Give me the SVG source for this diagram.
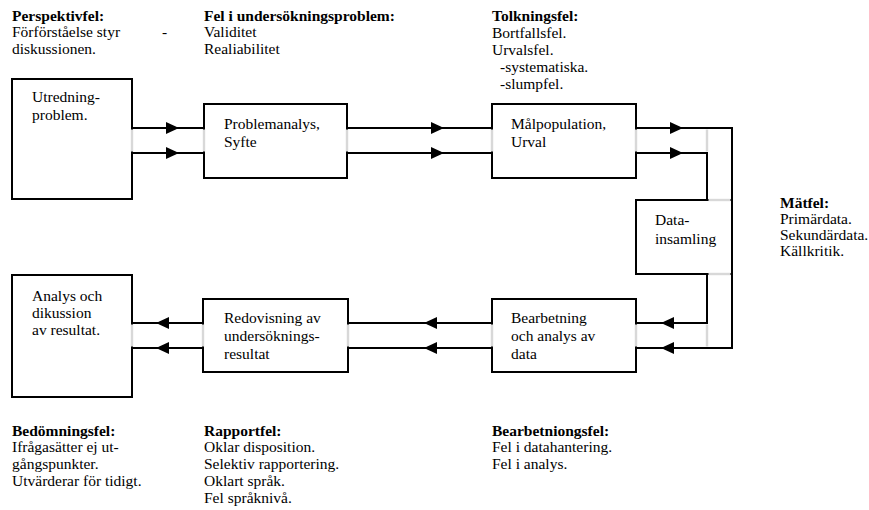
<svg xmlns="http://www.w3.org/2000/svg" width="869" height="510" viewBox="0 0 869 510">
<defs>
<style>
text{font-family:"Liberation Serif","Times New Roman",serif;font-size:15.5px;fill:#000}
.b{font-weight:bold}
.box{fill:#fff;stroke:#000;stroke-width:2}
.ln{fill:none;stroke:#000;stroke-width:2}
.gap{stroke:#d8d8d8;stroke-width:2.4;fill:none}
.ah{fill:#000}
</style>
</defs>
<rect width="869" height="510" fill="#fff"/>

<g id="connectors">
<line class="ln" x1="132" y1="128" x2="204" y2="128"/>
<line class="ln" x1="132" y1="153" x2="204" y2="153"/>
<line class="ln" x1="347" y1="128" x2="492" y2="128"/>
<line class="ln" x1="347" y1="153" x2="492" y2="153"/>
<path class="ln" d="M636 128 H732 V348 H636"/>
<path class="ln" d="M636 153 H707 V323 H636"/>
<line class="ln" x1="348" y1="323" x2="492" y2="323"/>
<line class="ln" x1="348" y1="348" x2="492" y2="348"/>
<line class="ln" x1="132" y1="323" x2="203" y2="323"/>
<line class="ln" x1="132" y1="348" x2="203" y2="348"/>
<path class="ah" d="M166 122 L179 128 L166 134 Z"/>
<path class="ah" d="M166 147 L179 153 L166 159 Z"/>
<path class="ah" d="M431 122 L444 128 L431 134 Z"/>
<path class="ah" d="M431 147 L444 153 L431 159 Z"/>
<path class="ah" d="M670 122 L683 128 L670 134 Z"/>
<path class="ah" d="M670 147 L683 153 L670 159 Z"/>
<path class="ah" d="M674 317 L661 323 L674 329 Z"/>
<path class="ah" d="M674 342 L661 348 L674 354 Z"/>
<path class="ah" d="M437 317 L424 323 L437 329 Z"/>
<path class="ah" d="M437 342 L424 348 L437 354 Z"/>
<path class="ah" d="M169 317 L156 323 L169 329 Z"/>
<path class="ah" d="M169 342 L156 348 L169 354 Z"/>
</g>

<g id="n1"><rect class="box" x="12" y="79" width="120" height="120"/>
<text x="32" y="102">Utredning-</text><text x="32" y="120">problem.</text></g>
<g id="n2"><rect class="box" x="204" y="104" width="143" height="74"/>
<text x="224" y="129">Problemanalys,</text><text x="224" y="147">Syfte</text></g>
<g id="n3"><rect class="box" x="492" y="104" width="144" height="74"/>
<text x="511" y="129">Målpopulation,</text><text x="511" y="147">Urval</text></g>
<g id="n4"><rect class="box" x="636" y="200" width="96" height="74"/>
<text x="655" y="225">Data-</text><text x="655" y="244">insamling</text></g>
<g id="n5"><rect class="box" x="492" y="299" width="144" height="73"/>
<text x="511" y="323">Bearbetning</text><text x="511" y="341">och analys av</text><text x="511" y="359">data</text></g>
<g id="n6"><rect class="box" x="203" y="299" width="145" height="73"/>
<text x="224" y="323">Redovisning av</text><text x="224" y="341">undersöknings-</text><text x="224" y="359">resultat</text></g>
<g id="n7"><rect class="box" x="12" y="275" width="120" height="122"/>
<text x="32" y="301">Analys och</text><text x="32" y="318">dikussion</text><text x="32" y="335">av resultat.</text></g>

<g id="gaps">
<line class="gap" x1="132" y1="129.5" x2="132" y2="151.5"/>
<line class="gap" x1="204" y1="129.5" x2="204" y2="151.5"/>
<line class="gap" x1="347" y1="129.5" x2="347" y2="151.5"/>
<line class="gap" x1="492" y1="129.5" x2="492" y2="151.5"/>
<line class="gap" x1="636" y1="129.5" x2="636" y2="151.5"/>
<line class="gap" x1="707" y1="129.5" x2="707" y2="151.5"/>
<line class="gap" x1="708.5" y1="200" x2="730.5" y2="200"/>
<line class="gap" x1="708.5" y1="274" x2="730.5" y2="274"/>
<line class="gap" x1="707" y1="324.5" x2="707" y2="346.5"/>
<line class="gap" x1="636" y1="324.5" x2="636" y2="346.5"/>
<line class="gap" x1="492" y1="324.5" x2="492" y2="346.5"/>
<line class="gap" x1="348" y1="324.5" x2="348" y2="346.5"/>
<line class="gap" x1="203" y1="324.5" x2="203" y2="346.5"/>
<line class="gap" x1="132" y1="324.5" x2="132" y2="346.5"/>
</g>

<g id="labels">
<text x="12" y="21" class="b">Perspektivfel:</text>
<text x="12" y="37">Förförståelse styr</text>
<text x="162" y="37">-</text>
<text x="12" y="54">diskussionen.</text>

<text x="204" y="21" class="b">Fel i undersökningsproblem:</text>
<text x="204" y="37">Validitet</text>
<text x="204" y="54">Realiabilitet</text>

<text x="492" y="21" class="b">Tolkningsfel:</text>
<text x="492" y="38">Bortfallsfel.</text>
<text x="492" y="55">Urvalsfel.</text>
<text x="500" y="72">-systematiska.</text>
<text x="500" y="89">-slumpfel.</text>

<text x="780" y="208" class="b">Mätfel:</text>
<text x="780" y="224">Primärdata.</text>
<text x="780" y="240">Sekundärdata.</text>
<text x="780" y="256">Källkritik.</text>

<text x="12" y="436" class="b">Bedömningsfel:</text>
<text x="12" y="452">Ifrågasätter ej ut-</text>
<text x="12" y="469">gångspunkter.</text>
<text x="12" y="486">Utvärderar för tidigt.</text>

<text x="204" y="436" class="b">Rapportfel:</text>
<text x="204" y="452">Oklar disposition.</text>
<text x="204" y="469">Selektiv rapportering.</text>
<text x="204" y="486">Oklart språk.</text>
<text x="204" y="503">Fel språknivå.</text>

<text x="492" y="436" class="b">Bearbetniongsfel:</text>
<text x="492" y="452">Fel i datahantering.</text>
<text x="492" y="469">Fel i analys.</text>
</g>
</svg>
